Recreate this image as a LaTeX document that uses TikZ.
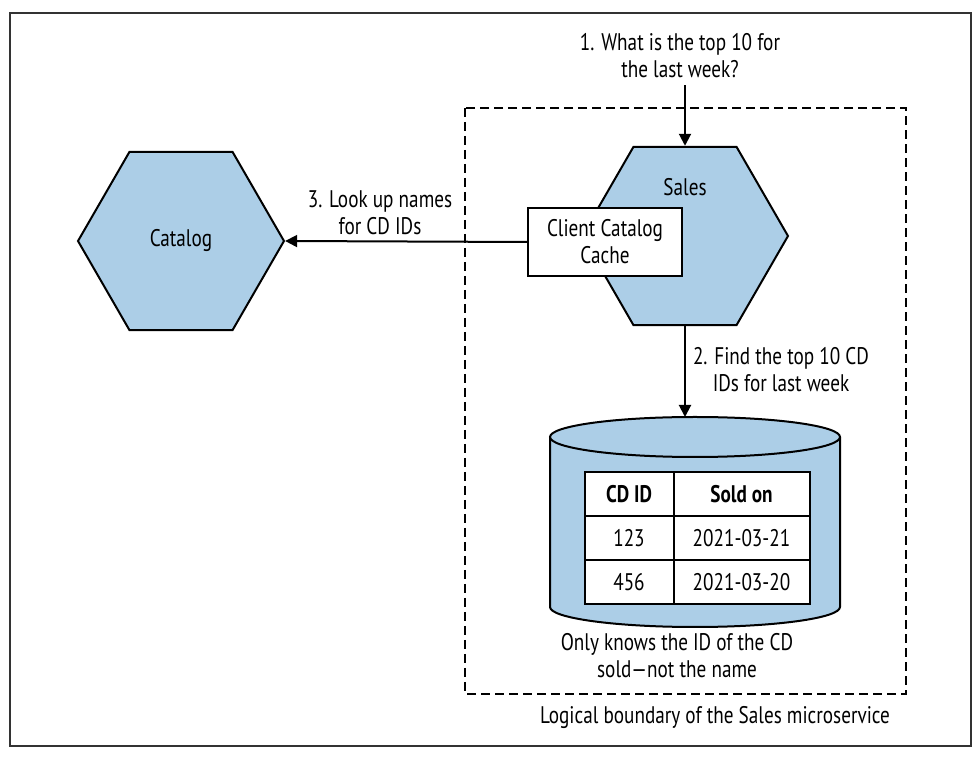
\documentclass[tikz,border=0pt]{standalone}
\usepackage{fontspec}
\setmainfont{PT Sans}[FakeStretch=0.8]
\usepackage{tikz}
\usetikzlibrary{positioning,arrows.meta,shapes,matrix,calc}
\definecolor{svcblue}{RGB}{172,206,231}
\tikzset{hex node/.style={regular polygon,regular polygon sides=6,draw,fill=svcblue,
line width=1pt,minimum size=103pt,inner sep=0pt},
cache node/.style={rectangle,draw,fill=white,line width=1pt,minimum width=77pt,
minimum height=34pt,align=center},
flow/.style={line width=1pt,-{Triangle[length=6pt,width=6pt]}},
note/.style={align=center}}

\begin{document}
\begin{tikzpicture}[x=0.5pt,y=-0.5pt,font=\fontsize{12}{13.5}\selectfont]
    \useasboundingbox (0,0) rectangle (975,758);
    \draw[line width=0.8pt,black!80] (10,13) rectangle (971,746);
    \draw[line width=1pt,dash pattern=on 4.5pt off 2.5pt] (465,108) rectangle (906,694);

            \node[hex node] (sales) at (685,236) {};
            \node[hex node] (catalog) at (181,241) {Catalog};
            \node (salesname) at (685,187) {Sales};
            \node[cache node] (cache) at (605,242) {Client Catalog\\Cache};

            % database
            \coordinate (db) at (695,437);
            \path[draw,fill=svcblue,line width=1pt]
            (550,437) -- (550,607) arc[start angle=180,end angle=0,x radius=145,y radius=20]
            -- (840,437);
            \draw[fill=svcblue,line width=1pt] (db) ellipse[x radius=145,y radius=20];
            \coordinate (dbtop) at (685,417);

            \matrix (sold) [matrix of nodes,nodes={draw,fill=white,line width=1pt,minimum height=22pt,anchor=center},
            column 1/.style={nodes={minimum width=44.5pt}},column 2/.style={nodes={minimum width=68pt}},
            row sep=-1pt,column sep=-1pt] at (697,538) {
            \textbf{CD ID} & \textbf{Sold on} \\
            123 & 2021-03-21 \\
            456 & 2021-03-20 \\
            };

            \node[note] (ask) at (680,56) {1. What is the top 10 for\\the last week?};
            \node[note] (lookup) at (380,213) {3. Look up names\\for CD IDs};
            \node[note] (find) at (781,370) {2. Find the top 10 CD\\IDs for last week};
            \node[note] (knows) at (677,656) {Only knows the ID of the CD\\sold\textemdash not the name};
            \node (boundary) at (715,718) {Logical boundary of the Sales microservice};

            \path[flow]
            (ask.south -| sales.north) edge (sales.north)
            (cache.west) edge (catalog.east)
            (sales.south) edge (dbtop);

\end{tikzpicture}
\end{document}
